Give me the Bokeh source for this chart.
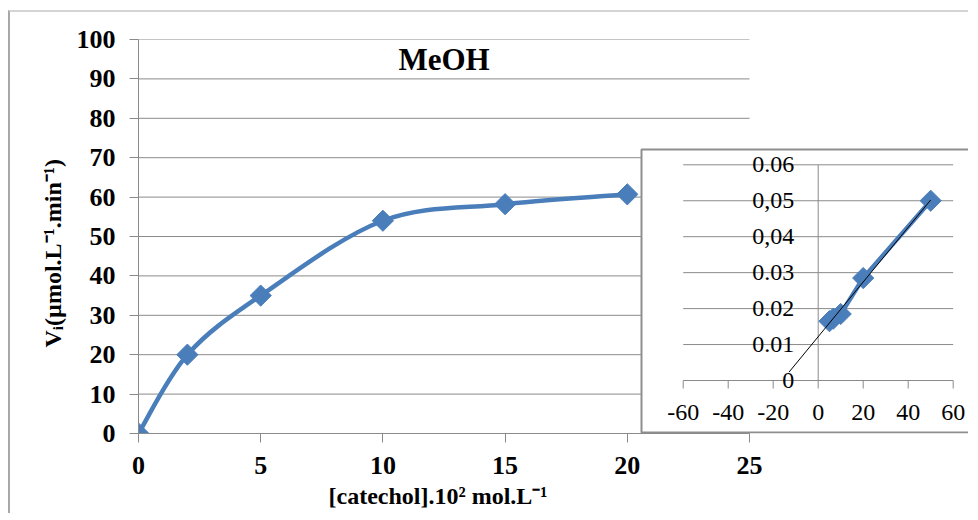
import numpy as np
from bokeh.plotting import figure
from bokeh.models import FixedTicker, Label, Range1d, Title
from bokeh.core.properties import value
from bokeh.embed import file_html
from bokeh.resources import INLINE

# ---------------- data ----------------
catechol = [0, 2, 5, 10, 15, 20]          # [catechol].10^2 mol/L
vi = [0, 20, 35, 54, 58.2, 60.7]          # Vi (umol/L/min)
main_x_ticks = [0, 5, 10, 15, 20, 25]
main_y_ticks = [0, 10, 20, 30, 40, 50, 60, 70, 80, 90, 100]
title_text = "MeOH"
x_title = "[catechol].10\u00b2 mol.L\u207b\u00b9"
y_title = "V\u1d62(\u00b5mol.L\u207b\u00b9.min\u207b\u00b9)"

inv_s = [50, 20, 10, 6.7, 5]              # Lineweaver-Burk inset
inv_v = [0.05, 0.0285, 0.0185, 0.0172, 0.0165]
inset_x_ticks = [-60, -40, -20, 0, 20, 40, 60]
inset_x_labels = ["-60", "-40", "-20", "0", "20", "40", "60"]
inset_y_ticks = [0, 0.01, 0.02, 0.03, 0.04, 0.05, 0.06]
inset_y_labels = ["0", "0.01", "0.02", "0.03", "0,04", "0,05", "0.06"]
trend_backcast = 18

# ---------------- styling / layout (page pixels) ----------------
BLUE = "#4A7EBB"
GRID = "#8a8a8a"
BOXC = "#8e8e8e"
SERIF = "Liberation Serif"
FRAME_L, FRAME_T = 138, 39          # frame top-left on the page
FRAME_W, FRAME_H = 830, 394
MAIN_X_PX = (138, 749)              # where the first and last main x ticks sit
INSET_X_PX = (682.7, 952.7)         # where -60 and 60 of the inset sit
INSET_Y_PX = (380.0, 164.3)         # where 0 and 0.06 of the inset sit
INSET_BOX = (641, 149)              # inset box left / top

x_end = main_x_ticks[-1] * FRAME_W / (MAIN_X_PX[1] - MAIN_X_PX[0])
ix_k = (INSET_X_PX[1] - INSET_X_PX[0]) / (inset_x_ticks[-1] - inset_x_ticks[0])
ix_start = inset_x_ticks[0] - (INSET_X_PX[0] - FRAME_L) / ix_k
ix_end = ix_start + FRAME_W / ix_k
iy_k = (INSET_Y_PX[0] - INSET_Y_PX[1]) / (inset_y_ticks[-1] - inset_y_ticks[0])
iy_start = inset_y_ticks[0] - (FRAME_T + FRAME_H - INSET_Y_PX[0]) / iy_k
iy_end = iy_start + FRAME_H / iy_k
box_left = ix_start + (INSET_BOX[0] - FRAME_L) / ix_k
box_top = iy_start + (FRAME_T + FRAME_H - INSET_BOX[1]) / iy_k
box_bottom = iy_start + 1 / iy_k

# ---------------- main chart ----------------
p = figure(frame_width=FRAME_W, frame_height=FRAME_H,
           x_range=Range1d(0, x_end), y_range=Range1d(0, 100),
           output_backend="svg", toolbar_location=None,
           min_border_left=FRAME_L - 10, min_border_right=0,
           min_border_top=FRAME_T - 12, min_border_bottom=80,
           styles={"transform": "translate(8px, 10px)",
                   "border-left": "2px solid #a8a8a8", "border-top": "2px solid #d4d4d4"})
p.extra_x_ranges = {"ix": Range1d(ix_start, ix_end)}
p.extra_y_ranges = {"iy": Range1d(iy_start, iy_end)}
p.outline_line_color = None
p.xgrid.visible = False
p.ygrid.visible = False
p.background_fill_color = "white"
p.border_fill_color = "white"

for ax in (p.xaxis[0], p.yaxis[0]):
    ax.axis_line_color = GRID
    ax.major_tick_line_color = GRID
    ax.minor_tick_line_color = None
    ax.major_tick_in = 0
    ax.major_tick_out = 9
    ax.major_label_text_font = SERIF
    ax.major_label_text_font_style = "bold"
    ax.major_label_text_font_size = "26px"
    ax.major_label_text_color = "black"
p.xaxis.ticker = FixedTicker(ticks=main_x_ticks)
p.yaxis.ticker = FixedTicker(ticks=main_y_ticks)
p.xaxis.bounds = (main_x_ticks[0], main_x_ticks[-1])
p.xaxis.major_label_standoff = 14
p.yaxis.major_label_standoff = 14

p.add_layout(Title(text=x_title, align="left", offset=190, standoff=8,
                   text_font=SERIF, text_font_style="bold", text_font_size="24px",
                   text_color="black"), "below")
p.add_layout(Title(text=y_title, align="left", offset=86, standoff=15,
                   text_font=SERIF, text_font_style="bold", text_font_size="24px",
                   text_color="black"), "left")

# horizontal grid lines of the main chart (only over its own x extent)
p.segment(x0=[main_x_ticks[0]] * len(main_y_ticks), x1=[main_x_ticks[-1]] * len(main_y_ticks),
          y0=main_y_ticks, y1=main_y_ticks, line_color=GRID, line_width=1)

# Excel-like smoothed line through the points (cubic Bezier segments)
xs = np.array(catechol, float)
ys = np.array(vi, float)
n = len(xs)
qx = np.concatenate([[xs[0]], xs, [xs[-1]]])
qy = np.concatenate([[ys[0]], ys, [ys[-1]]])
cx0 = qx[1:n] + (qx[2:n + 1] - qx[0:n - 1]) / 6
cy0 = qy[1:n] + (qy[2:n + 1] - qy[0:n - 1]) / 6
cx1 = qx[2:n + 1] - (qx[3:n + 2] - qx[1:n]) / 6
cy1 = qy[2:n + 1] - (qy[3:n + 2] - qy[1:n]) / 6
p.bezier(x0=xs[:-1], y0=ys[:-1], x1=xs[1:], y1=ys[1:],
         cx0=cx0, cy0=cy0, cx1=cx1, cy1=cy1,
         line_color=BLUE, line_width=4.5, line_cap="round")
p.scatter(catechol, vi, marker="square", size=15, angle=np.pi / 4,
          fill_color=BLUE, line_color=BLUE)

p.add_layout(Label(x=12.5, y=95, text=title_text, text_align="center", text_baseline="middle",
                   text_font=SERIF, text_font_style="bold", text_font_size="31px", text_color="black"))

# ---------------- inset (Lineweaver-Burk) ----------------
R = dict(x_range_name="ix", y_range_name="iy")
p.quad(left=[box_left], right=[ix_end + 10], bottom=[iy_start], top=[box_top],
       fill_color="white", line_color=None, **R)
p.line([ix_end + 10, box_left, box_left, ix_end + 10], [box_top, box_top, box_bottom, box_bottom],
       line_color=BOXC, line_width=2, **R)

# grid lines
p.segment(x0=[inset_x_ticks[0]] * (len(inset_y_ticks) - 1), x1=[inset_x_ticks[-1]] * (len(inset_y_ticks) - 1),
          y0=inset_y_ticks[1:], y1=inset_y_ticks[1:], line_color=GRID, line_width=1, **R)
# axes
p.segment(x0=[inset_x_ticks[0], 0], x1=[inset_x_ticks[-1], 0],
          y0=[0, inset_y_ticks[0]], y1=[0, inset_y_ticks[-1]], line_color=GRID, line_width=1, **R)
p.ray(x=inset_x_ticks, y=[0] * len(inset_x_ticks), length=8, length_units="screen",
      angle=-np.pi / 2, line_color=GRID, line_width=1, **R)
p.text(x=inset_x_ticks, y=[0] * len(inset_x_ticks), text=inset_x_labels, y_offset=32,
       text_align="center", text_baseline="middle", text_font=value(SERIF),
       text_font_size=value("24px"), text_color="black", **R)
p.text(x=[0] * len(inset_y_ticks), y=inset_y_ticks, text=inset_y_labels, x_offset=-24,
       text_align="right", text_baseline="middle", text_font=value(SERIF),
       text_font_size=value("24px"), text_color="black", **R)

# data
p.line(inv_s, inv_v, line_color=BLUE, line_width=4.5, **R)
p.scatter(inv_s, inv_v, marker="square", size=15, angle=np.pi / 4,
          fill_color=BLUE, line_color=BLUE, **R)
slope, intercept = np.polyfit(inv_s, inv_v, 1)
tx = np.array([min(inv_s) - trend_backcast, max(inv_s)])
p.line(tx, slope * tx + intercept, line_color="black", line_width=1, **R)

open("out.html", "w").write(file_html(p, INLINE))
